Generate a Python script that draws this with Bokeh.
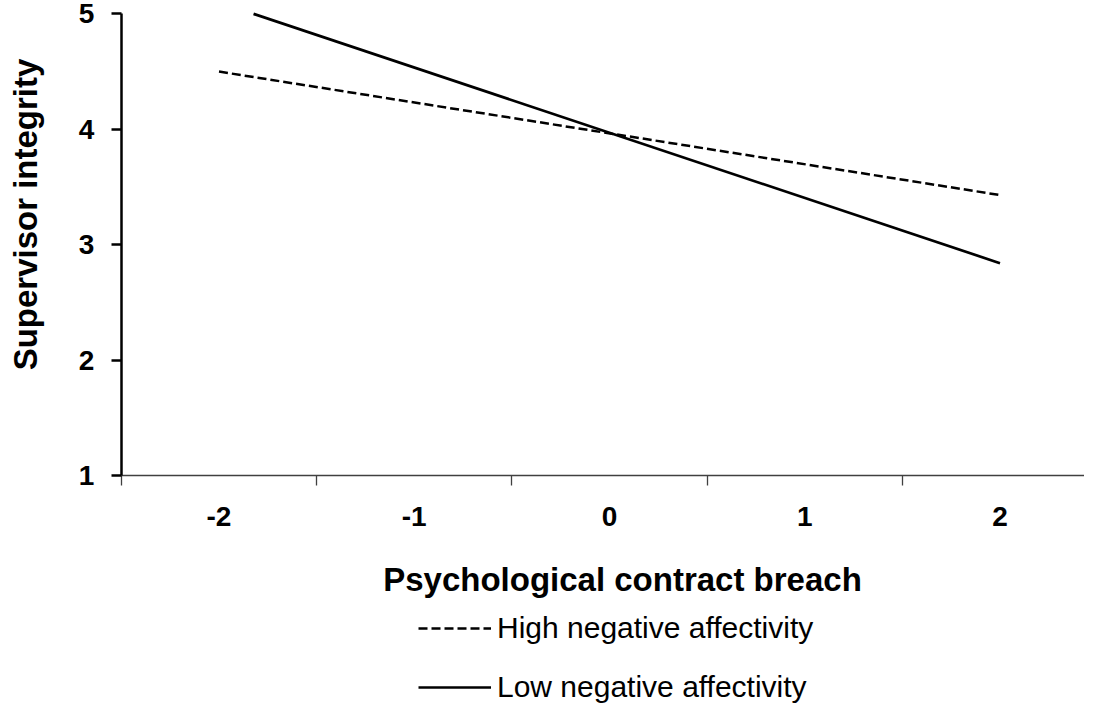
import math
from bokeh.plotting import figure
from bokeh.models import FixedTicker, Range1d, Legend, LegendItem, Label
from bokeh.embed import file_html
from bokeh.resources import INLINE

# ---- data ----
categories = [-2, -1, 0, 1, 2]
tick_labels = ["-2", "-1", "0", "1", "2"]
category_bounds = [-2.5, -1.5, -0.5, 0.5, 1.5, 2.5]
x_points = [-2, 2]
high_na = [4.50, 3.43]
low_na = [5.10, 2.84]
y_ticks = [1, 2, 3, 4, 5]
y_min, y_max = 1, 5
series_names = ["High negative affectivity", "Low negative affectivity"]
x_title = "Psychological contract breach"
y_title = "Supervisor integrity"

# ---- layout (pixels) ----
W, H = 1084, 707
PX_X0, PX_X_UNIT = 218.5, 195.25     # pixel of x=-2, pixels per category
PX_Y1, PX_Y_UNIT = 475.0, 115.4      # pixel of y=1, pixels per unit
FONT = "Liberation Sans"
AXIS_GRAY = "#404040"

x_start = categories[0] - PX_X0 / PX_X_UNIT
x_end = x_start + W / PX_X_UNIT
y_end = y_min + PX_Y1 / PX_Y_UNIT
y_start = y_end - H / PX_Y_UNIT


def clip_top(xs, ys, top):
    """Clip a polyline to the plot area's upper limit."""
    cx, cy = [], []
    for i in range(len(xs)):
        if i > 0:
            x0, y0, x1, y1 = xs[i - 1], ys[i - 1], xs[i], ys[i]
            if (y0 > top) != (y1 > top):
                t = (top - y0) / (y1 - y0)
                cx.append(x0 + t * (x1 - x0))
                cy.append(top)
        if ys[i] <= top:
            cx.append(xs[i])
            cy.append(ys[i])
    return cx, cy


p = figure(width=W, height=H, output_backend="svg", toolbar_location=None,
           x_range=Range1d(x_start, x_end), y_range=Range1d(y_start, y_end),
           min_border=0, background_fill_color="white",
           border_fill_color="white", outline_line_color=None)
p.grid.visible = False

hx, hy = clip_top(x_points, high_na, y_max)
lx, ly = clip_top(x_points, low_na, y_max)
r_high = p.line(hx, hy, line_color="black", line_width=2.5, line_dash="9 4")
r_low = p.line(lx, ly, line_color="black", line_width=2.7)

# x axis
xa = p.xaxis[0]
xa.fixed_location = y_min
xa.bounds = (category_bounds[0], category_bounds[-1])
xa.ticker = FixedTicker(ticks=categories, minor_ticks=category_bounds)
xa.major_label_overrides = {c: l for c, l in zip(categories, tick_labels)}
xa.major_tick_out = 10
xa.major_tick_in = 0
xa.major_tick_line_color = None
xa.minor_tick_in = 0
xa.minor_tick_out = 10
xa.minor_tick_line_color = AXIS_GRAY
xa.minor_tick_line_width = 1.3
xa.axis_line_color = AXIS_GRAY
xa.axis_line_width = 1.3
xa.major_label_standoff = 21
xa.major_label_text_font = FONT
xa.major_label_text_font_style = "bold"
xa.major_label_text_font_size = "28px"
xa.major_label_text_color = "black"

# y axis
ya = p.yaxis[0]
ya.fixed_location = category_bounds[0]
ya.bounds = (y_min, y_max)
ya.ticker = FixedTicker(ticks=y_ticks, minor_ticks=[])
ya.major_tick_out = 10
ya.major_tick_in = 0
ya.major_tick_line_color = "black"
ya.major_tick_line_width = 2.5
ya.minor_tick_line_color = None
ya.axis_line_color = "black"
ya.axis_line_width = 2.5
ya.major_label_standoff = 17
ya.major_label_text_font = FONT
ya.major_label_text_font_style = "bold"
ya.major_label_text_font_size = "28px"
ya.major_label_text_color = "black"

# axis titles (screen units measured from the bottom-left corner)
p.add_layout(Label(x=25, y=H - 214, x_units="screen", y_units="screen", text=y_title,
                   angle=math.pi / 2, text_align="center", text_baseline="alphabetic",
                   text_font=FONT, text_font_style="bold", text_font_size="33px",
                   text_color="black"))
p.add_layout(Label(x=622, y=H - 579, x_units="screen", y_units="screen", text=x_title,
                   text_align="center", text_baseline="alphabetic",
                   text_font=FONT, text_font_style="bold", text_font_size="33px",
                   text_color="black"))

legend = Legend(items=[LegendItem(label=series_names[0], renderers=[r_high]),
                       LegendItem(label=series_names[1], renderers=[r_low])],
                location=(418, 3), orientation="vertical", padding=0, margin=0,
                spacing=25, glyph_width=73, glyph_height=30, label_height=30,
                label_standoff=6, label_text_font=FONT, label_text_font_size="30px",
                label_text_color="black", border_line_color=None,
                background_fill_alpha=0)
p.add_layout(legend)

open("out.html", "w").write(file_html(p, INLINE))
